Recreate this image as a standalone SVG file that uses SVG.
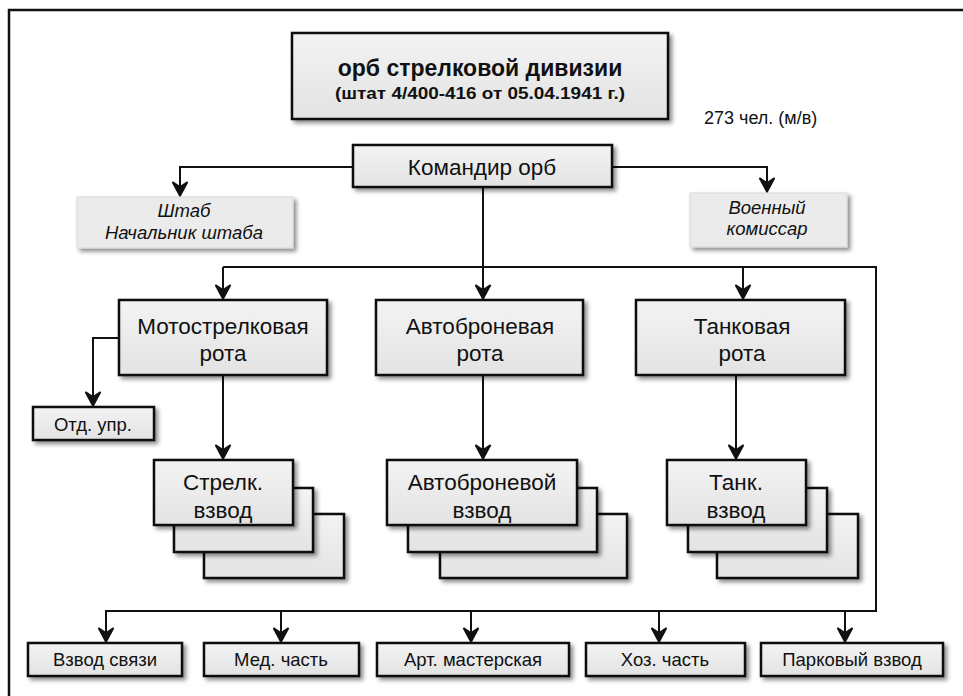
<svg xmlns="http://www.w3.org/2000/svg" width="963" height="696" viewBox="0 0 963 696">
<style>
.box{fill:url(#g);stroke:#111;stroke-width:2.5;filter:url(#sh)}
.soft{fill:#ebebeb;stroke:#d8d8d8;stroke-width:1;filter:url(#sh)}
.t{font-family:"Liberation Sans",Arial,sans-serif;fill:#111;text-anchor:middle}
.big{font-size:22.5px}
.sm{font-size:18.5px}
.it{font-style:italic;font-size:18.5px}
.ln{fill:none;stroke:#111;stroke-width:2}
.ar{marker-end:url(#arr)}
</style>
<defs>
<linearGradient id="g" x1="0" y1="0" x2="0" y2="1">
<stop offset="0" stop-color="#f3f3f3"/>
<stop offset="1" stop-color="#e3e3e3"/>
</linearGradient>
<filter id="sh" x="-10%" y="-10%" width="130%" height="140%">
<feDropShadow dx="3" dy="3" stdDeviation="2" flood-color="#000" flood-opacity="0.45"/>
</filter>
<marker id="arr" viewBox="-16 -9 18 18" markerWidth="18" markerHeight="18" refX="0" refY="0" orient="auto" markerUnits="userSpaceOnUse">
<path d="M-14,-7.5 L0,0 L-14,7.5 L-9,0 Z" fill="#111" stroke="#111" stroke-width="1.6" stroke-linejoin="miter"/>
</marker>
</defs>
<rect width="963" height="696" fill="#fff"/>
<path d="M9,696 V10 H963" fill="none" stroke="#111" stroke-width="2.5"/>

<g id="connectors">
<path class="ln ar" d="M353,167 H180 V196"/>
<path class="ln ar" d="M612,167 H767 V192"/>
<path class="ln ar" d="M483,187 V299"/>
<path class="ln ar" d="M223,267 V299"/>
<path class="ln ar" d="M743,267 V299"/>
<path class="ln ar" d="M223,267 H876 V611 H106 V642"/>
<path class="ln ar" d="M281,611 V642"/>
<path class="ln ar" d="M471,611 V642"/>
<path class="ln ar" d="M659,611 V642"/>
<path class="ln ar" d="M845,611 V642"/>
<path class="ln ar" d="M119,338 H93 V406"/>
<path class="ln ar" d="M223,375 V459"/>
<path class="ln ar" d="M483,375 V459"/>
<path class="ln ar" d="M736,375 V459"/>
</g>

<g id="title">
<rect class="box" x="292" y="33" width="376" height="86"/>
<text class="t" x="480" y="76" font-size="23" font-weight="bold">орб стрелковой дивизии</text>
<text class="t" x="480" y="99" font-size="17" font-weight="bold" textLength="290" lengthAdjust="spacingAndGlyphs">(штат 4/400-416 от 05.04.1941 г.)</text>
</g>

<g id="strength">
<text class="t" x="704" y="124" font-size="18" style="text-anchor:start">273 чел. (м/в)</text>
</g>

<g id="commander">
<rect class="box" x="353" y="145" width="259" height="42"/>
<text class="t big" x="482" y="175">Командир орб</text>
</g>

<g id="staff">
<rect class="soft" x="77" y="197" width="216" height="51"/>
<text class="t it" x="184" y="217">Штаб</text>
<text class="t it" x="184" y="239">Начальник штаба</text>
</g>

<g id="commissar">
<rect class="soft" x="690" y="193" width="157" height="54"/>
<text class="t it" x="767" y="214" font-size="17.5">Военный</text>
<text class="t it" x="767" y="235" font-size="17.5">комиссар</text>
</g>

<g id="moto-company">
<rect class="box" x="119" y="300" width="208" height="75"/>
<text class="t big" x="223" y="334">Мотострелковая</text>
<text class="t big" x="223" y="361">рота</text>
</g>

<g id="armored-company">
<rect class="box" x="376" y="300" width="207" height="75"/>
<text class="t big" x="480" y="334">Автоброневая</text>
<text class="t big" x="480" y="361">рота</text>
</g>

<g id="tank-company">
<rect class="box" x="636" y="300" width="209" height="75"/>
<text class="t big" x="742" y="334">Танковая</text>
<text class="t big" x="742" y="361">рота</text>
</g>

<g id="ctrl-section">
<rect class="box" x="33" y="407" width="121" height="33"/>
<text class="t sm" x="93" y="431">Отд. упр.</text>
</g>

<g id="rifle-platoon">
<rect class="box" x="204" y="514" width="140" height="64"/>
<rect class="box" x="174" y="488" width="139" height="64"/>
<rect class="box" x="154" y="460" width="139" height="65"/>
<text class="t big" x="223" y="490">Стрелк.</text>
<text class="t big" x="223" y="518">взвод</text>
</g>

<g id="armored-platoon">
<rect class="box" x="440" y="514" width="187" height="64"/>
<rect class="box" x="408" y="488" width="189" height="64"/>
<rect class="box" x="387" y="460" width="190" height="65"/>
<text class="t big" x="482" y="490">Автоброневой</text>
<text class="t big" x="482" y="518">взвод</text>
</g>

<g id="tank-platoon">
<rect class="box" x="717" y="514" width="141" height="64"/>
<rect class="box" x="688" y="488" width="139" height="64"/>
<rect class="box" x="667" y="460" width="139" height="65"/>
<text class="t big" x="736" y="490">Танк.</text>
<text class="t big" x="736" y="518">взвод</text>
</g>

<g id="signal-platoon">
<rect class="box" x="28" y="643" width="154" height="33"/>
<text class="t sm" x="105" y="666">Взвод связи</text>
</g>
<g id="medical">
<rect class="box" x="204" y="643" width="155" height="33"/>
<text class="t sm" x="281" y="666">Мед. часть</text>
</g>
<g id="workshop">
<rect class="box" x="377" y="643" width="192" height="33"/>
<text class="t sm" x="473" y="666">Арт. мастерская</text>
</g>
<g id="supply">
<rect class="box" x="586" y="643" width="159" height="33"/>
<text class="t sm" x="665" y="666">Хоз. часть</text>
</g>
<g id="park-platoon">
<rect class="box" x="761" y="643" width="182" height="33"/>
<text class="t sm" x="852" y="666">Парковый взвод</text>
</g>
</svg>
